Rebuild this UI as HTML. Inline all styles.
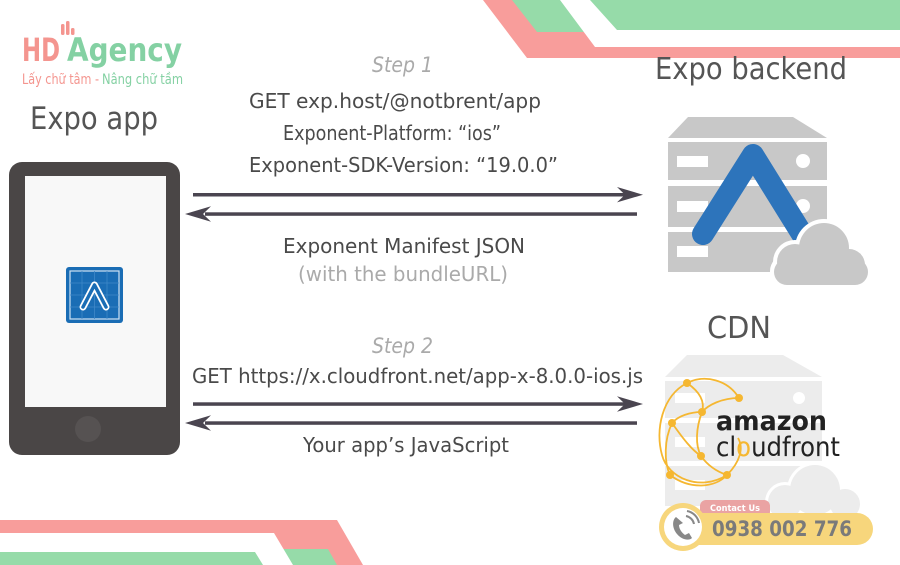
<!DOCTYPE html>
<html><head><meta charset="utf-8"><style>
html,body{margin:0;padding:0;background:#fff;}
svg{display:block;}
text{font-family:"DejaVu Sans","Liberation Sans",sans-serif;}
</style></head><body>
<svg width="900" height="565" viewBox="0 0 900 565" xmlns="http://www.w3.org/2000/svg">
<rect width="900" height="565" fill="#fff"/>
<!-- top decoration -->
<polygon points="483,0 527,58 900,58 900,0" fill="#f89d9b"/>
<polygon points="512,0 537,32 900,32 900,0" fill="#96dba9"/>
<polygon points="560,0 595,47 900,47 900,30 617,30 590,0" fill="#fff"/>
<!-- bottom decoration -->
<polygon points="0,520 337,520 363,565 0,565" fill="#f89d9b"/>
<polygon points="0,549 328,549 337,565 0,565" fill="#96dba9"/>
<polygon points="0,533 274,533 293,565 263,565 255,552 0,552" fill="#fff"/>

<!-- logo -->
<g fill="#f4958f">
<rect x="61" y="24" width="3.5" height="11" rx="1.5"/>
<rect x="66" y="21" width="3.5" height="14" rx="1.5"/>
<rect x="71" y="28" width="3.5" height="7" rx="1.5"/>
</g>
<text x="22" y="61" font-size="32" font-weight="bold" fill="#f4958f" textLength="38" lengthAdjust="spacingAndGlyphs">HD</text>
<text x="67" y="61" font-size="32" font-weight="bold" fill="#84d1a3" textLength="115" lengthAdjust="spacingAndGlyphs">Agency</text>
<text x="22" y="84" font-size="14" fill="#f4958f" textLength="77" lengthAdjust="spacingAndGlyphs">Lấy chữ tâm -</text>
<text x="102" y="84" font-size="14" fill="#84d1a3" textLength="81" lengthAdjust="spacingAndGlyphs">Nâng chữ tầm</text>

<!-- titles -->
<text x="30" y="129" font-size="31" fill="#555" textLength="128" lengthAdjust="spacingAndGlyphs">Expo app</text>
<text x="655" y="79" font-size="30" fill="#555" textLength="192" lengthAdjust="spacingAndGlyphs">Expo backend</text>
<text x="707" y="338" font-size="30" fill="#555" textLength="64" lengthAdjust="spacingAndGlyphs">CDN</text>

<!-- step 1 text -->
<text x="372" y="72" font-size="21" font-style="italic" fill="#aaa" textLength="61" lengthAdjust="spacingAndGlyphs">Step 1</text>
<text x="249" y="108" font-size="20" fill="#4a4a4a" textLength="292" lengthAdjust="spacingAndGlyphs">GET exp.host/@notbrent/app</text>
<text x="283" y="140" font-size="20" fill="#4a4a4a" textLength="218" lengthAdjust="spacingAndGlyphs">Exponent-Platform: “ios”</text>
<text x="249" y="172" font-size="20" fill="#4a4a4a" textLength="309" lengthAdjust="spacingAndGlyphs">Exponent-SDK-Version: “19.0.0”</text>
<text x="283" y="253" font-size="20" fill="#4a4a4a" textLength="242" lengthAdjust="spacingAndGlyphs">Exponent Manifest JSON</text>
<text x="298" y="281" font-size="20" fill="#aaa" textLength="210" lengthAdjust="spacingAndGlyphs">(with the bundleURL)</text>

<!-- step 2 text -->
<text x="372" y="353" font-size="21" font-style="italic" fill="#aaa" textLength="61" lengthAdjust="spacingAndGlyphs">Step 2</text>
<text x="192" y="383" font-size="20" fill="#4a4a4a" textLength="451" lengthAdjust="spacingAndGlyphs">GET https://x.cloudfront.net/app-x-8.0.0-ios.js</text>
<text x="303" y="452" font-size="20" fill="#4a4a4a" textLength="206" lengthAdjust="spacingAndGlyphs">Your app’s JavaScript</text>

<!-- arrows -->
<g fill="#4a4550" stroke="none">
<rect x="193" y="193" width="432" height="3.5"/>
<polygon points="643,194.7 617,187 625,194.7 617,202.4"/>
<rect x="205" y="212.3" width="432" height="3.5"/>
<polygon points="185,214 211,206.3 203,214 211,221.7"/>
<rect x="193" y="402.3" width="432" height="3.5"/>
<polygon points="643,404 617,396.3 625,404 617,411.7"/>
<rect x="205" y="421.3" width="432" height="3.5"/>
<polygon points="185,423 211,415.3 203,423 211,430.7"/>
</g>

<!-- phone -->
<rect x="9" y="162" width="171" height="293" rx="13" fill="#4a4646"/>
<rect x="25" y="176" width="141" height="231" fill="#f8f8f8"/>
<circle cx="88" cy="429" r="13" fill="#565252"/>
<!-- app icon -->
<rect x="66" y="267" width="57" height="56" rx="3" fill="#1a6db5"/>
<rect x="70" y="271" width="49" height="48" fill="none" stroke="#cfe2f3" stroke-width="1.2"/>
<g stroke="#3f88c8" stroke-width="0.8">
<line x1="82" y1="271" x2="82" y2="319"/><line x1="94.5" y1="271" x2="94.5" y2="319"/><line x1="107" y1="271" x2="107" y2="319"/>
<line x1="70" y1="283" x2="119" y2="283"/><line x1="70" y1="295" x2="119" y2="295"/><line x1="70" y1="307" x2="119" y2="307"/>
</g>
<polyline points="83,307 94.5,285 106,307" fill="none" stroke="#fff" stroke-width="7" stroke-linecap="round" stroke-linejoin="round"/>
<polyline points="83,307 94.5,285 106,307" fill="none" stroke="#1a6db5" stroke-width="3.5" stroke-linecap="round" stroke-linejoin="round"/>

<!-- expo backend server -->
<g fill="#c8c8c8">
<polygon points="688,117 793,117 827,138 668,138"/>
<rect x="668" y="142" width="159" height="38"/>
<rect x="668" y="186" width="159" height="41"/>
<rect x="668" y="232" width="159" height="40"/>
</g>
<g fill="#fff">
<rect x="677" y="156" width="31" height="11"/>
<rect x="677" y="201" width="31" height="11"/>
<rect x="677" y="246" width="31" height="11"/>
<circle cx="803" cy="161" r="7"/>
<circle cx="803" cy="206" r="7"/>
</g>
<polyline points="703,234 753,155 802,234" fill="none" stroke="#2d74bb" stroke-width="22" stroke-linecap="round" stroke-linejoin="round"/>
<!-- cloud -->
<g fill="#fff">
<circle cx="824" cy="248" r="29"/>
<circle cx="795" cy="262" r="22"/>
<circle cx="849" cy="265" r="20"/>
<rect x="770" y="255" width="102" height="33" rx="16"/>
</g>
<g fill="#c8c8c8">
<circle cx="824" cy="248" r="25"/>
<circle cx="795" cy="262" r="18"/>
<circle cx="849" cy="265" r="16"/>
<rect x="774" y="259" width="94" height="26" rx="13"/>
</g>

<!-- CDN faded server -->
<g fill="#ececec">
<polygon points="687,355 783,355 822,377 665,377"/>
<rect x="665" y="381" width="157" height="37"/>
<rect x="665" y="423" width="157" height="38"/>
<rect x="665" y="466" width="157" height="40"/>
</g>
<g fill="#fff">
<rect x="675" y="393" width="30" height="10"/>
<rect x="675" y="437" width="30" height="10"/>
<rect x="675" y="480" width="30" height="10"/>
<circle cx="799" cy="398" r="6"/>
</g>
<g fill="#fff">
<circle cx="815" cy="490" r="28"/><circle cx="785" cy="502" r="20"/><circle cx="845" cy="504" r="18"/>
</g>
<g fill="#ececec">
<circle cx="815" cy="490" r="25"/><circle cx="785" cy="502" r="17"/><circle cx="845" cy="504" r="15"/>
</g>

<!-- cloudfront network -->
<g fill="none" stroke="#f5b731" stroke-width="1.8">
<path d="M739,398 C728,380 705,374 687,383 C662,396 655,430 662,455 C668,478 700,492 727,475"/>
<path d="M687,383 C700,392 705,402 702,412 C696,428 695,445 701,456 C708,466 718,472 727,475"/>
<path d="M739,398 C722,398 708,405 702,412 C690,412 678,416 672,423 C664,440 664,462 670,475 C690,490 715,488 727,475"/>
<path d="M672,423 C684,440 692,450 701,456"/>
<path d="M727,475 C740,462 744,448 738,438"/>
</g>
<g fill="#f5b731">
<circle cx="687" cy="383" r="4"/><circle cx="739" cy="398" r="4"/><circle cx="702" cy="412" r="4"/>
<circle cx="672" cy="423" r="4"/><circle cx="701" cy="456" r="4"/><circle cx="670" cy="475" r="4"/><circle cx="727" cy="475" r="4"/>
</g>
<text x="716" y="430" font-size="27" font-weight="bold" fill="#222" textLength="111" lengthAdjust="spacingAndGlyphs">amazon</text>
<text x="716" y="456" font-size="27" fill="#222" textLength="124" lengthAdjust="spacingAndGlyphs">cl<tspan fill="#f5b731">o</tspan>udfront</text>

<!-- contact badge -->
<rect x="700" y="500" width="70" height="18" rx="6" fill="#eaa3a3"/>
<text x="710" y="511" font-size="8.5" font-weight="bold" fill="#fff" textLength="50" lengthAdjust="spacingAndGlyphs">Contact Us</text>
<rect x="660" y="513" width="213" height="32" rx="16" fill="#f7d67c"/>
<circle cx="683" cy="527" r="24" fill="#f7d67c"/>
<circle cx="683" cy="527" r="19" fill="#fff"/>
<path d="M676,517 C672,520 672,528 677,534 C682,540 689,541 692,538 L689,533 L685,535 C682,533 679,529 679,525 L683,523 Z" fill="#888"/>
<path d="M686,516 A10,10 0 0 1 694,524" fill="none" stroke="#888" stroke-width="2"/>
<path d="M687,511 A15,15 0 0 1 699,523" fill="none" stroke="#888" stroke-width="2"/>
<text x="712" y="536" font-size="21" font-weight="bold" fill="#7a7a7a" textLength="140" lengthAdjust="spacingAndGlyphs">0938 002 776</text>
</svg>
</body></html>
